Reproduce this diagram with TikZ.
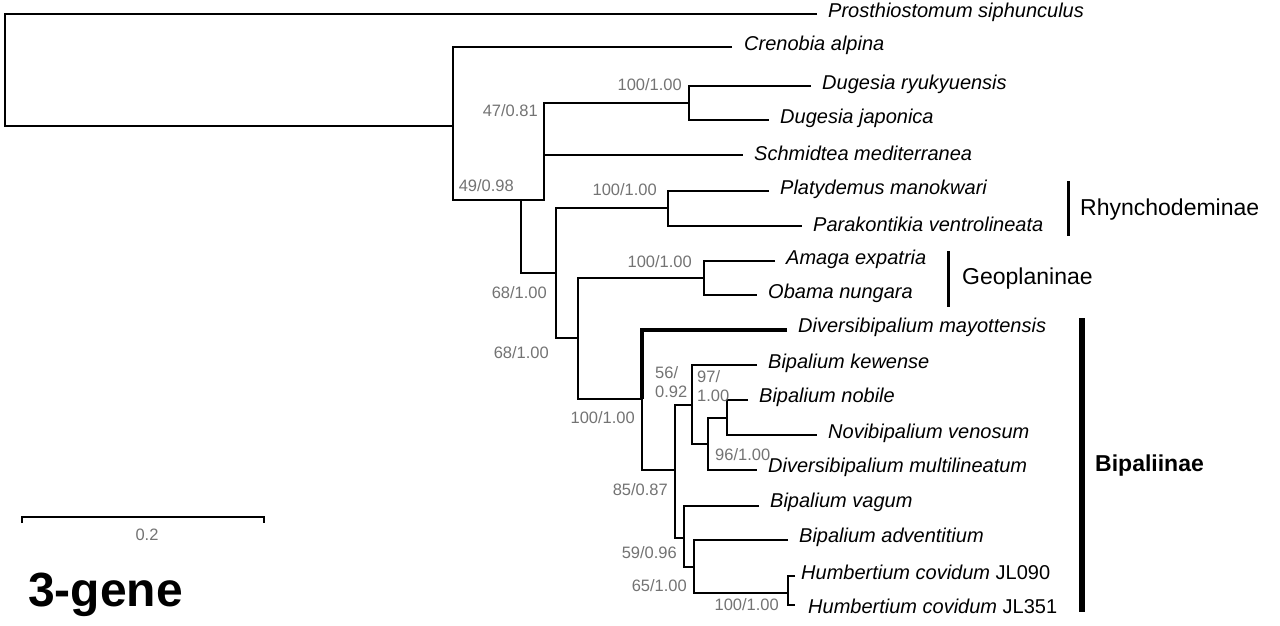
\documentclass[tikz,border=0pt]{standalone}
\usepackage{fontspec}
\setmainfont{Liberation Sans}
\begin{document}
\begin{tikzpicture}[x=1pt,y=-1pt,
  br/.style={line width=1.6pt},
  tax/.style={anchor=west,inner sep=0pt,font=\fontsize{20}{24}\selectfont\itshape},
  sup/.style={inner sep=0pt,text=black!55,font=\fontsize{16.5}{19}\selectfont},
  clade/.style={anchor=west,inner sep=0pt,font=\fontsize{23}{27}\selectfont}]
\useasboundingbox (0,0) rectangle (1280,625);
% internal nodes
\coordinate (r) at (5,126);
\coordinate (a) at (453,126);
\coordinate (b) at (521,200);
\coordinate (c) at (544,129);
\coordinate (d) at (689,103);
\coordinate (e) at (556,273);
\coordinate (f) at (668,208);
\coordinate (g) at (578,338);
\coordinate (h) at (704,278);
\coordinate (k) at (642,399);
\coordinate (m) at (675,470);
\coordinate (n) at (692,405);
\coordinate (o) at (708,444);
\coordinate (p) at (727,418);
\coordinate (q) at (684,538);
\coordinate (s) at (694,567);
\coordinate (t) at (788,593);
% tips
\coordinate (t1) at (817,14);
\coordinate (t2) at (732,47);
\coordinate (t3) at (811,86);
\coordinate (t4) at (769,120);
\coordinate (t5) at (743,155);
\coordinate (t6) at (769,191);
\coordinate (t7) at (802,226);
\coordinate (t8) at (775,261);
\coordinate (t9) at (757,295);
\coordinate (t10) at (787,330);
\coordinate (t11) at (757,365);
\coordinate (t12) at (748,400);
\coordinate (t13) at (817,435);
\coordinate (t14) at (757,470);
\coordinate (t15) at (759,506);
\coordinate (t16) at (788,540);
\coordinate (t17) at (795,576);
\coordinate (t18) at (795,605);
% branches
\draw[br] (t1) -| (r) |- (a);
\draw[br] (t2) -| (a) |- (b);
\draw[br] (c) |- (b) |- (e);
\draw[br] (t3) -| (d) |- (t4);
\draw[br] (d) -| (c) |- (t5);
\draw[br] (t6) -| (f) |- (t7);
\draw[br] (f) -| (e) |- (g);
\draw[br] (t8) -| (h) |- (t9);
\draw[br] (h) -| (g) |- (k);
\draw[line width=4pt] (t10) -| (k);
\draw[br] (k) |- (m);
\draw[br] (k |- 330,0) ++(0,0);
\draw[br] (n) -| (m) |- (q);
\draw[br] (t11) -| (n) |- (o);
\draw[br] (p) -| (o) |- (t14);
\draw[br] (t12) -| (p) |- (t13);
\draw[br] (t15) -| (q) |- (s);
\draw[br] (t16) -| (s) |- (t);
\draw[br] (t17) -| (t) |- (t18);
% tip labels
\node[tax] (l1) at (828,12) {Prosthiostomum siphunculus};
\node[tax] (l2) at (744,45) {Crenobia alpina};
\node[tax] (l3) at (822,84) {Dugesia ryukyuensis};
\node[tax] (l4) at (780,118) {Dugesia japonica};
\node[tax] (l5) at (754,153) {Schmidtea mediterranea};
\node[tax] (l6) at (780,189) {Platydemus manokwari};
\node[tax] (l7) at (813,224) {Parakontikia ventrolineata};
\node[tax] (l8) at (786,259) {Amaga expatria};
\node[tax] (l9) at (768,293) {Obama nungara};
\node[tax] (l10) at (798,327) {Diversibipalium mayottensis};
\node[tax] (l11) at (768,363) {Bipalium kewense};
\node[tax] (l12) at (759,397) {Bipalium nobile};
\node[tax] (l13) at (828,433) {Novibipalium venosum};
\node[tax] (l14) at (768,467) {Diversibipalium multilineatum};
\node[tax] (l15) at (770,502) {Bipalium vagum};
\node[tax] (l16) at (799,537) {Bipalium adventitium};
\node[tax] (l17) at (801,572) {Humbertium covidum \textup{JL090}};
\node[tax] (l18) at (808,606) {Humbertium covidum \textup{JL351}};
% support values
\node[sup,anchor=east] (s1) at (682,85) {100/1.00};
\node[sup,anchor=east] (s2) at (538,111) {47/0.81};
\node[sup,anchor=east] (s3) at (514,186) {49/0.98};
\node[sup,anchor=east] (s4) at (657,190) {100/1.00};
\node[sup,anchor=east] (s5) at (692,262) {100/1.00};
\node[sup,anchor=east] (s6) at (547,293) {68/1.00};
\node[sup,anchor=east] (s7) at (549,353) {68/1.00};
\node[sup,anchor=east] (s8) at (635,418) {100/1.00};
\node[sup,anchor=west,align=left] (s9) at (655,382) {56/\\0.92};
\node[sup,anchor=west,align=left] (s10) at (697,386) {97/\\1.00};
\node[sup,anchor=west] (s11) at (715,455) {96/1.00};
\node[sup,anchor=east] (s12) at (668,490) {85/0.87};
\node[sup,anchor=east] (s13) at (677,553) {59/0.96};
\node[sup,anchor=east] (s14) at (687,586) {65/1.00};
\node[sup,anchor=east] (s15) at (779,605) {100/1.00};
% clade bars
\coordinate (ra) at (1068,181); \coordinate (rb) at (1068,236);
\draw[line width=3pt] (ra) -- (rb);
\node[clade] (c1) at (1080,210) {Rhynchodeminae};
\coordinate (ga) at (948,251); \coordinate (gb) at (948,307);
\draw[line width=3pt] (ga) -- (gb);
\node[clade] (c2) at (962,279) {Geoplaninae};
\coordinate (ba) at (1082,318); \coordinate (bb) at (1082,612);
\draw[line width=6pt] (ba) -- (bb);
\node[clade,font=\fontsize{23}{27}\selectfont\bfseries] (c3) at (1095,466) {Bipaliinae};
% scale bar
\coordinate (sa) at (22,517); \coordinate (sb) at (264,517);
\draw[br] ([yshift=-6]sa) -- (sa) -- (sb) -- ([yshift=-6]sb);
\node[sup] (sl) at (147,535) {0.2};
\node[anchor=west,inner sep=0pt,font=\fontsize{48}{54}\selectfont\bfseries] (title) at (28,595) {3-gene};
\end{tikzpicture}
\end{document}
